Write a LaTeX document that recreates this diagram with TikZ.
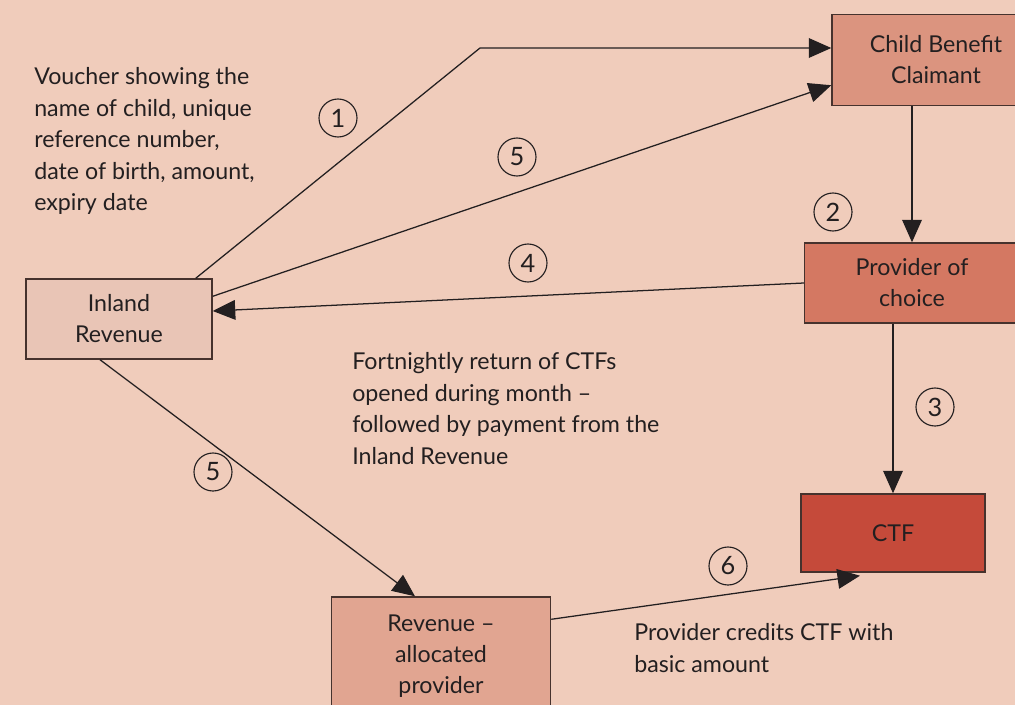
\documentclass[tikz,border=0pt]{standalone}
\usepackage{fontspec}
\setmainfont{Lato}
\usetikzlibrary{arrows.meta,calc}

\definecolor{bgpeach}{RGB}{240,204,187}
\definecolor{claimfill}{RGB}{219,148,127}
\definecolor{choicefill}{RGB}{212,120,98}
\definecolor{ctffill}{RGB}{197,74,58}
\definecolor{allocfill}{RGB}{225,165,145}
\definecolor{inlandfill}{RGB}{233,197,182}
\definecolor{boxline}{RGB}{70,50,45}
\definecolor{ink}{RGB}{35,31,32}

\begin{document}
\begin{tikzpicture}[x=0.025cm, y=-0.025cm]
\useasboundingbox (0,0) rectangle (1015,705);
\clip (0,0) rectangle (1015,705);
\fill[bgpeach] (0,0) rectangle (1015,705);

\coordinate (B1) at (936, 60);
\coordinate (B2) at (912, 283);
\coordinate (B3) at (893, 533);
\coordinate (B4) at (441, 656);
\coordinate (B5) at (119, 319);
\coordinate (K1) at (480, 48);

\coordinate (S1) at (338, 118);
\coordinate (S2) at (833, 212);
\coordinate (S3) at (935, 407);
\coordinate (S4) at (528, 263);
\coordinate (S5_1) at (517, 157);
\coordinate (S5_2) at (213, 472);
\coordinate (S6) at (728, 566);

\coordinate (T1) at (34, 67);
\coordinate (T2) at (352, 352);
\coordinate (T3) at (634, 623);


\tikzset{BoxStyle/.style = {
 draw = boxline,
 line width = 1pt,
 text = ink,
 align = center,
 inner sep = 0pt,
 font = \fontsize{16.5}{22}\selectfont} }

\node[BoxStyle, fill=claimfill, minimum width=5.2cm, minimum height=2.275cm] (claimant) at (B1) {Child Benefit\\Claimant};
\node[BoxStyle, fill=choicefill, minimum width=5.375cm, minimum height=2cm] (choice) at (B2) {Provider of\\choice};
\node[BoxStyle, fill=ctffill, minimum width=4.6cm, minimum height=1.95cm] (ctf) at (B3) {CTF};
\node[BoxStyle, fill=allocfill, minimum width=5.475cm, minimum height=2.95cm] (allocated) at (B4) {Revenue --\\allocated\\provider};
\node[BoxStyle, fill=inlandfill, minimum width=4.65cm, minimum height=2cm] (inland) at (B5) {Inland\\Revenue};


\tikzset{ArrowStyle/.style = {draw=ink, line width=0.9pt, -{Triangle[length=16pt, width=14pt]}} }

\draw[ArrowStyle] ($(inland.north east)+(-17,0)$) -- (K1) -- (K1 -| claimant.west);
\draw[ArrowStyle] ($(inland.north east)+(0,18)$) -- ($(claimant.south west)+(0,-21)$);
\draw[ArrowStyle] (claimant.south -| choice.north) -- (choice.north);
\draw[ArrowStyle] (choice.south -| ctf.north) -- (ctf.north);
\draw[ArrowStyle] (choice.west) -- ($(inland.east)+(0,-8)$);
\draw[ArrowStyle] ($(inland.south)+(-19,0)$) -- ($(allocated.north)+(-26,0)$);
\draw[ArrowStyle] ($(allocated.north east)+(0,23)$) -- ($(ctf.south)+(-33,3)$);


\tikzset{StepStyle/.style = {
 shape = circle,
 draw = ink,
 line width = 0.8pt,
 text = ink,
 inner sep = 0pt,
 minimum size = 0.95cm,
 font = \fontsize{18}{22}\selectfont} }

\node[StepStyle] (N1) at (S1) {1};
\node[StepStyle] (N2) at (S2) {2};
\node[StepStyle] (N3) at (S3) {3};
\node[StepStyle] (N4) at (S4) {4};
\node[StepStyle] (N5_1) at (S5_1) {5};
\node[StepStyle] (N5_2) at (S5_2) {5};
\node[StepStyle] (N6) at (S6) {6};


\tikzset{NoteStyle/.style = {
 anchor = north west,
 align = left,
 text = ink,
 inner sep = 0pt,
 font = \fontsize{16.5}{22.5}\selectfont} }

\node[NoteStyle] (voucher) at (T1) {Voucher showing the\\name of child, unique\\reference number,\\date of birth, amount,\\expiry date};
\node[NoteStyle] (fortnight) at (T2) {Fortnightly return of CTFs\\opened during month --\\followed by payment from the\\Inland Revenue};
\node[NoteStyle] (credits) at (T3) {Provider credits CTF with\\basic amount};

\end{tikzpicture}
\end{document}
